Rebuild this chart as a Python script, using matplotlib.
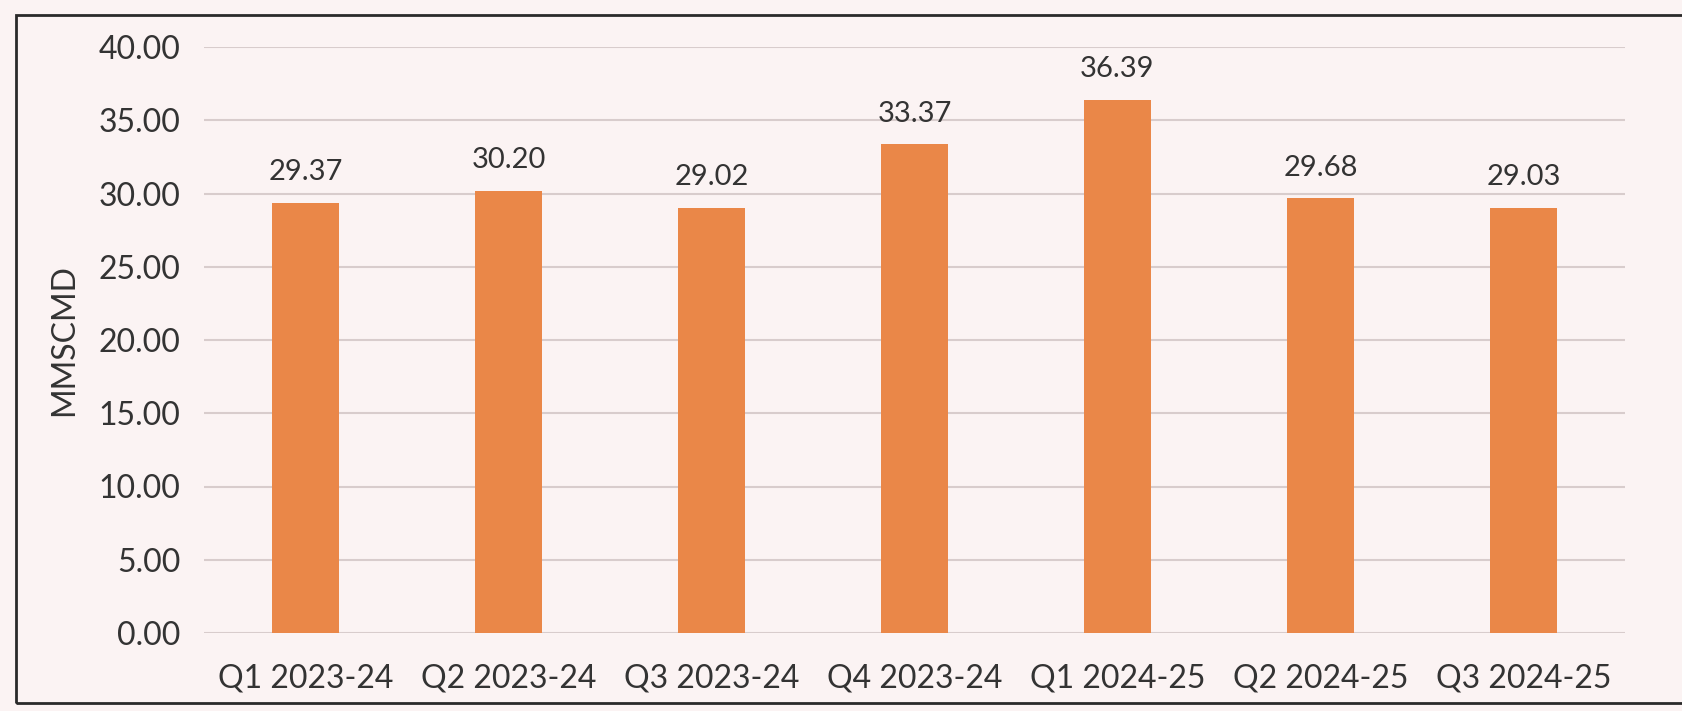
import numpy as np
import matplotlib.pyplot as plt

quarters = ['Q1 2023-24', 'Q2 2023-24', 'Q3 2023-24', 'Q4 2023-24',
            'Q1 2024-25', 'Q2 2024-25', 'Q3 2024-25']
mmscmd = [29.37, 30.20, 29.02, 33.37, 36.39, 29.68, 29.03]
yticks = [0, 5, 10, 15, 20, 25, 30, 35, 40]

plt.rcParams['font.family'] = ['Lato', 'DejaVu Sans']

fig = plt.figure(figsize=(16.82, 7.11), dpi=100)
fig.patch.set_facecolor('#fbf3f3')

# outer frame of the scanned chart
fig.add_artist(plt.Rectangle((16 / 1682, 8 / 711), 1700 / 1682, 688 / 711,
                             transform=fig.transFigure, fill=False,
                             edgecolor='#2a2a2a', linewidth=2))

ax = fig.add_axes([204 / 1682, 78 / 711, 1421 / 1682, 586 / 711])
ax.set_facecolor('#fbf3f3')

x = np.arange(len(quarters))
ax.bar(x, mmscmd, width=0.33, color='#ea8748', zorder=3)

for xi, v in zip(x, mmscmd):
    ax.text(xi, v + 1.2, f'{v:.2f}', ha='center', va='bottom',
            fontsize=21, color='#333333')

ax.set_xlim(-0.5, len(quarters) - 0.5)
ax.set_ylim(0, 40)
ax.set_yticks(yticks)
ax.set_yticklabels([f'{t:.2f}' for t in yticks])
ax.set_xticks(x)
ax.set_xticklabels(quarters)
ax.yaxis.grid(True, color='#d8cccc', linewidth=1.5, zorder=0)
ax.tick_params(axis='both', length=0, labelsize=23, labelcolor='#333333')
ax.tick_params(axis='y', pad=17)
ax.tick_params(axis='x', pad=22)
for s in ax.spines.values():
    s.set_visible(False)

ax.set_ylabel('MMSCMD', fontsize=23, color='#333333', labelpad=14)

fig.savefig('out.png', dpi=100, facecolor=fig.get_facecolor())
